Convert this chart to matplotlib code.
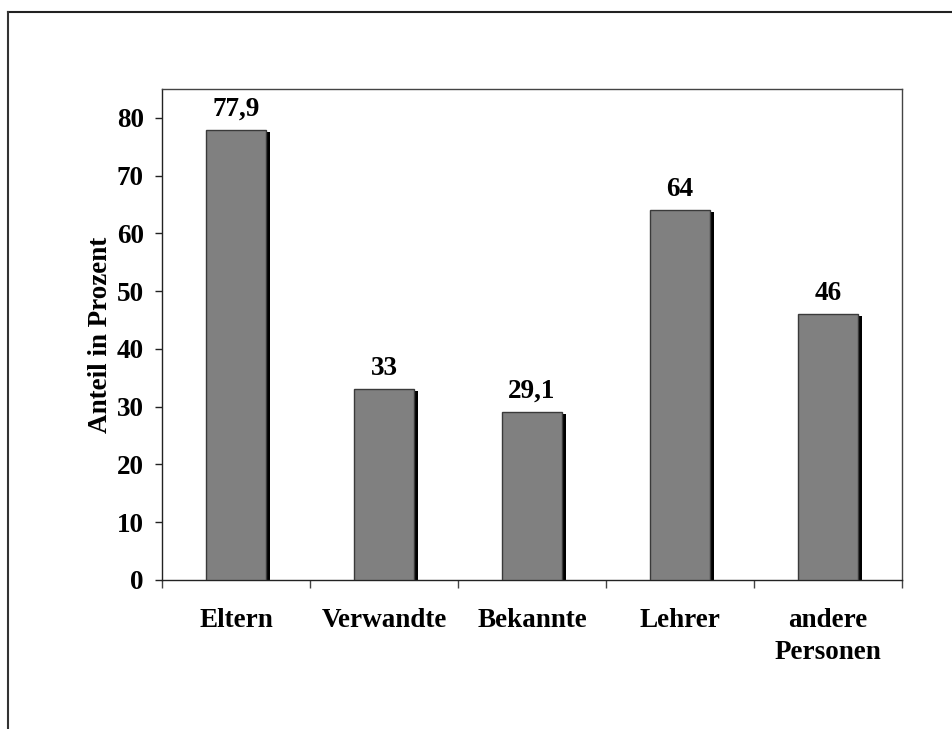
import matplotlib.pyplot as plt
import matplotlib.transforms as mtransforms
from matplotlib.lines import Line2D

categories = ["Eltern", "Verwandte", "Bekannte", "Lehrer", "andere\nPersonen"]
values = [77.9, 33, 29.1, 64, 46]
value_labels = ["77,9", "33", "29,1", "64", "46"]
y_ticks = [0, 10, 20, 30, 40, 50, 60, 70, 80]

plt.rcParams["font.family"] = ["Liberation Serif", "DejaVu Serif"]
plt.rcParams["font.weight"] = "bold"

fig = plt.figure(figsize=(9.53, 7.29), dpi=100)
ax = fig.add_axes([0.170, 0.2044, 0.7765, 0.6736])

x = list(range(len(categories)))
width = 0.4

# shadow bars, shifted a few pixels right/down
shadow = mtransforms.offset_copy(ax.transData, fig=fig, x=4, y=-2, units="dots")
ax.bar(x, values, width=width, color="black", linewidth=0, transform=shadow, zorder=2)
ax.bar(x, values, width=width, color="#808080", edgecolor="#3a3a3a", linewidth=1.0, zorder=3)

for xi, v, lab in zip(x, values, value_labels):
    ax.annotate(lab, (xi, v), xytext=(0, 6), textcoords="offset points",
                ha="center", va="bottom", fontsize=19.5, fontweight="bold")

ax.set_xlim(-0.5, len(categories) - 0.5)
ax.set_ylim(0, 85)
ax.set_yticks(y_ticks)
ax.set_yticklabels([str(t) for t in y_ticks], fontsize=19.5, fontweight="bold")
ax.tick_params(axis="y", direction="out", length=5, width=1, pad=8, color="#222222")

ax.set_xticks(x)
ax.set_xticklabels(categories, fontsize=19.5, fontweight="bold", linespacing=1.4)
ax.tick_params(axis="x", which="major", length=0, pad=20)
ax.set_xticks([i - 0.5 for i in range(len(categories) + 1)], minor=True)
ax.tick_params(axis="x", which="minor", direction="out", length=6, width=1, color="#444444")

ax.set_ylabel("Anteil in Prozent", fontsize=19.5, fontweight="bold", labelpad=3)

for side in ["left", "bottom"]:
    ax.spines[side].set_color("#222222")
    ax.spines[side].set_linewidth(1.0)
for side in ["top", "right"]:
    ax.spines[side].set_color("#444444")
    ax.spines[side].set_linewidth(1.0)

# outer frame lines (top and left) like the original slide border
W, H = 953, 729
fig.add_artist(Line2D([8 / W, 1.0], [1 - 12 / H, 1 - 12 / H], color="#222222", linewidth=1.5))
fig.add_artist(Line2D([8 / W, 8 / W], [0.0, 1 - 12 / H], color="#333333", linewidth=1.5))

fig.savefig("out.png", dpi=100)
